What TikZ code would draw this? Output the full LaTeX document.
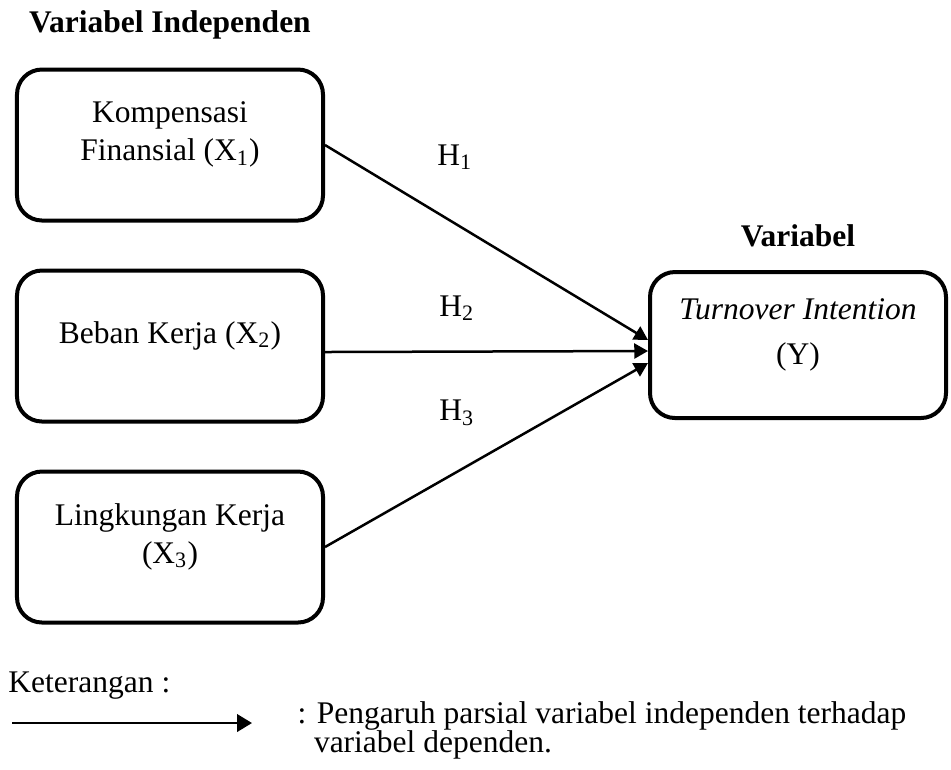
\documentclass[tikz,border=0pt]{standalone}
\usepackage{fontspec}
\setmainfont{Liberation Serif}
\usetikzlibrary{arrows.meta,positioning}
\newcommand{\lowpad}{\rule[-11pt]{0pt}{11pt}}
\newcommand{\tightlines}{\fontsize{12.6}{11.6}\selectfont\lineskiplimit=-20pt\relax}

\begin{document}
\begin{tikzpicture}[
   x=0.4pt, y=-0.4pt,
   font=\fontsize{12.6}{15.2}\selectfont,
   varbox/.style={draw, line width=1.6pt, rounded corners=10pt, align=center,
                  inner sep=0pt, minimum width=122.4pt, minimum height=60.4pt},
   infl/.style={-{Triangle[length=5.5pt,width=6pt]}, line width=1pt},
   head/.style={font=\fontsize{12.6}{14}\selectfont\bfseries, inner sep=0pt},
   hyp/.style={inner sep=0pt},
]
  \useasboundingbox (0,0) rectangle (951,769);
  \node[varbox] (komp) at (170,145) {Kompensasi\\ Finansial (X\textsubscript{1})\lowpad};
  \node[varbox, below=18.4pt of komp] (beban) {Beban Kerja (X\textsubscript{2})\lowpad};
  \node[varbox, below=18.4pt of beban] (ling) {Lingkungan Kerja\\ (X\textsubscript{3})\lowpad};
  \node[varbox, minimum width=118.4pt, minimum height=58.4pt] (turn) at (798,345)
        {\textit{Turnover Intention}\\[2.8pt] (Y)\lowpad};
  \node[head, above=11pt of komp] (indep) {Variabel Independen};
  \node[head, above=9.2pt of turn] (dep) {Variabel};

  \draw[infl] (komp.east) -- ([yshift=2pt]turn.west);
  \draw[infl] ([yshift=-2.4pt]beban.east) -- ([yshift=-2.4pt]turn.west);
  \draw[infl] (ling.east) -- ([yshift=-7.2pt]turn.west);
  \node[hyp] (h1) at (455,157) {H\textsubscript{1}};
  \node[hyp] (h2) at (457,308) {H\textsubscript{2}};
  \node[hyp] (h3) at (457,413) {H\textsubscript{3}};

  % keterangan
  \node[anchor=base west, inner sep=0pt] (ket) at (8,692) {Keterangan :};
  \coordinate (legfrom) at (12,723);
  \coordinate (legto) at (252,723);
  \draw[infl, -{Triangle[length=6pt,width=7pt]}] (legfrom) -- (legto);
  \node[anchor=north west, inner sep=0pt, align=left, font=\tightlines] (legtxt) at (297,701)
        {: Pengaruh parsial variabel independen terhadap\\ \hspace*{6.6pt}variabel dependen.};
\end{tikzpicture}
\end{document}
